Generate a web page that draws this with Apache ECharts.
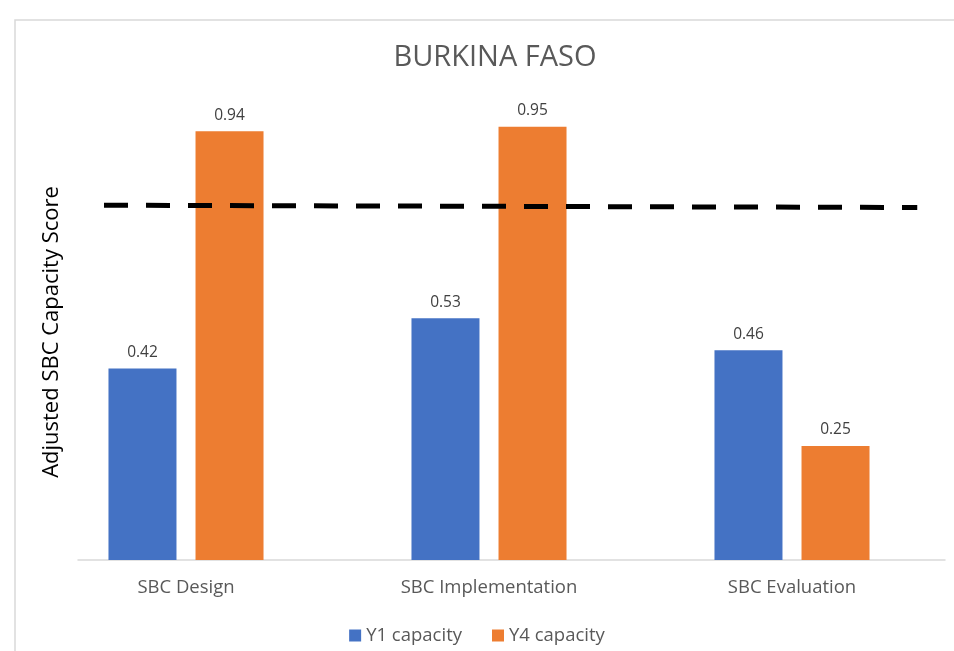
<!DOCTYPE html>
<html>
<head>
<meta charset="utf-8">
<script src="https://cdn.jsdelivr.net/npm/echarts@6/dist/echarts.min.js"></script>
<style>html,body{margin:0;padding:0;background:#fff}#c{width:954px;height:651px}</style>
</head>
<body>
<div id="c"></div>
<script>
const categories = ['SBC Design', 'SBC Implementation', 'SBC Evaluation'];
const y1Capacity = [0.42, 0.53, 0.46];
const y4Capacity = [0.94, 0.95, 0.25];
const thresholdX = [0.03, 0.968];
const thresholdY = [0.778, 0.773];

const font = '"Open Sans", "Noto Sans", sans-serif';
const chart = echarts.init(document.getElementById('c'));
chart.setOption({
  backgroundColor: '#fff',
  animation: false,
  title: {
    text: 'BURKINA FASO', left: 490, top: 38, textAlign: 'center',
    textStyle: { fontFamily: font, fontSize: 29, fontWeight: 'normal', color: '#595959' }
  },
  graphic: [{
    type: 'rect', shape: { x: 15, y: 20, width: 960, height: 660 },
    style: { fill: 'none', stroke: '#d9d9d9', lineWidth: 1.5 }, silent: true
  }],
  legend: {
    data: ['Y1 capacity', 'Y4 capacity'], left: 'center', top: 621, itemWidth: 12, itemHeight: 12,
    itemGap: 30, icon: 'rect',
    textStyle: { fontFamily: font, fontSize: 18.5, color: '#595959' }
  },
  grid: [
    { left: 34.5, right: 10.5, top: 104, bottom: 91 },
    { left: 78, right: 9, top: 104, bottom: 91 }
  ],
  xAxis: [
    { type: 'category', data: categories, gridIndex: 0, axisLine: { show: false }, axisTick: { show: false },
      axisLabel: { fontFamily: font, fontSize: 18.5, color: '#595959', margin: 18 } },
    { type: 'value', gridIndex: 1, min: 0, max: 1, axisLine: { show: true, onZero: false, lineStyle: { color: '#d9d9d9', width: 1.5 } },
      axisTick: { show: false }, axisLabel: { show: false }, splitLine: { show: false } }
  ],
  yAxis: [
    { type: 'value', gridIndex: 0, min: 0, max: 1, axisLine: { show: false }, axisTick: { show: false },
      axisLabel: { show: false }, splitLine: { show: false },
      name: 'Adjusted SBC Capacity Score', nameLocation: 'middle', nameRotate: 90, nameGap: -28,
      nameTextStyle: { fontFamily: font, fontSize: 22, color: '#000' } },
    { type: 'value', gridIndex: 1, min: 0, max: 1, show: false }
  ],
  series: [
    { name: 'Y1 capacity', type: 'bar', xAxisIndex: 0, yAxisIndex: 0, data: y1Capacity, barWidth: 68, barGap: '28%',
      itemStyle: { color: '#4472C4' },
      label: { show: true, position: 'top', distance: 8, fontFamily: font, fontSize: 15.5, color: '#404040' } },
    { name: 'Y4 capacity', type: 'bar', xAxisIndex: 0, yAxisIndex: 0, data: y4Capacity, barWidth: 68, barGap: '28%',
      itemStyle: { color: '#ED7D31' },
      label: { show: true, position: 'top', distance: 8, fontFamily: font, fontSize: 15.5, color: '#404040' } },
    { name: 'threshold', type: 'line', xAxisIndex: 1, yAxisIndex: 1, symbol: 'none', silent: true,
      data: thresholdX.map((x, i) => [x, thresholdY[i]]),
      lineStyle: { color: '#000', width: 5, type: [24, 18] } }
  ]
});
</script>
</body>
</html>
